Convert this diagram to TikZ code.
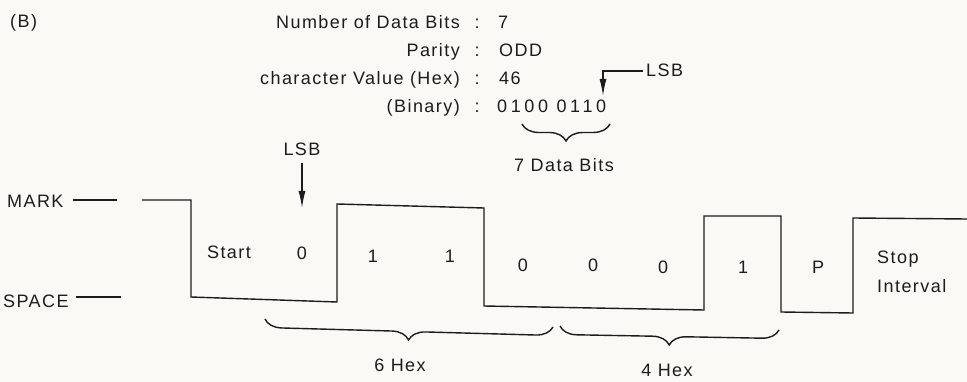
\documentclass[tikz,border=0pt]{standalone}
\usepackage{fontspec}
\setmainfont[LetterSpace=8]{Liberation Sans}
\newfontfamily\widefont[LetterSpace=20]{Liberation Sans}
\usetikzlibrary{arrows.meta,decorations.pathreplacing}
\definecolor{ink}{RGB}{28,28,28}
\definecolor{paper}{RGB}{250,249,246}
\begin{document}
\begin{tikzpicture}[x=1pt,y=-1pt,
  lbl/.style={inner sep=0pt,text=ink,font=\fontsize{18}{21}\selectfont},
  wave/.style={draw=ink,line width=1.4pt,line join=miter},
  lvl/.style={draw=ink,line width=1.4pt},
  arr/.style={draw=ink,line width=1.4pt,-{Latex[length=17pt,width=7pt]}},
  brc/.style={draw=ink,line width=1.4pt,decorate,decoration={brace,mirror,amplitude=17pt}}]
\useasboundingbox[fill=paper] (0,0) rectangle (967,382);
% header
\node[lbl,anchor=base west] (B) at (10,28) {(B)};
\node[lbl,anchor=base east] (r1) at (460,29) {Number of Data Bits};
\node[lbl,anchor=base] (c1) at (477,29) {:};
\node[lbl,anchor=base west] (v1) at (498,29) {7};
\node[lbl,anchor=base east] (r2) at (460,57) {Parity};
\node[lbl,anchor=base] (c2) at (477,57) {:};
\node[lbl,anchor=base west] (v2) at (499,57) {ODD};
\node[lbl,anchor=base east] (r3) at (460,85) {character Value (Hex)};
\node[lbl,anchor=base] (c3) at (477,85) {:};
\node[lbl,anchor=base west] (v3) at (499,85) {46};
\node[lbl,anchor=base east] (r4) at (460,113) {(Binary)};
\node[lbl,anchor=base] (c4) at (477,113) {:};
\node[lbl,anchor=base west,font=\widefont\fontsize{18}{21}\selectfont] (v4) at (497,113) {0100 0110};
% upper LSB
\node[lbl,anchor=base west] (lsbU) at (646,77) {LSB};
\coordinate (tipU) at (603,96);
\draw[arr] ([xshift=-3pt]lsbU.west) -| (tipU);
% 7 data bits brace
\coordinate (b7a) at (522,124);
\coordinate (b7b) at (610,124);
\draw[brc] (b7a) -- (b7b);
\node[lbl,anchor=base] (d7) at (564,172) {7 Data Bits};
% lower LSB
\node[lbl,anchor=base] (lsbL) at (302,156) {LSB};
\coordinate (tipL) at (302,208);
\draw[arr] ([yshift=-7pt]lsbL.south) -- (tipL);
% level labels
\node[lbl,anchor=base west] (mark) at (7,208) {MARK};
\node[lbl,anchor=base west] (space) at (3,308) {SPACE};
\draw[lvl] (73,200) -- (117,200);
\draw[lvl] (76,297) -- (121,297);
% waveform
\draw[wave] (142,200) -- (191,200) -- (191,297) -- (337,302) -- (337,204)
  -- (484,208) -- (484,306) -- (704,310) -- (704,216) -- (781,216)
  -- (781,312) -- (853,313) -- (853,218) -- (967,219);
% bit labels
\node[lbl,anchor=base] (st) at (229,259) {Start};
\node[lbl,anchor=base] (b0) at (302,260) {0};
\node[lbl,anchor=base] (b1) at (373,262) {1};
\node[lbl,anchor=base] (b2) at (450,263) {1};
\node[lbl,anchor=base] (b3) at (523,272) {0};
\node[lbl,anchor=base] (b4) at (593,272) {0};
\node[lbl,anchor=base] (b5) at (663,273) {0};
\node[lbl,anchor=base] (b6) at (743,273) {1};
\node[lbl,anchor=base] (bp) at (818,273) {P};
\node[lbl,anchor=base west] (stop) at (877,264) {Stop};
\node[lbl,anchor=base west] (intv) at (877,292) {Interval};
% hex braces
\coordinate (h6a) at (265,319);
\coordinate (h6b) at (553,327);
\draw[brc] (h6a) -- (h6b);
\node[lbl,anchor=base] (hex6) at (400,371) {6 Hex};
\coordinate (h4a) at (560,326);
\coordinate (h4b) at (779,330);
\draw[brc] (h4a) -- (h4b);
\node[lbl,anchor=base] (hex4) at (667,376) {4 Hex};
\end{tikzpicture}
\end{document}
